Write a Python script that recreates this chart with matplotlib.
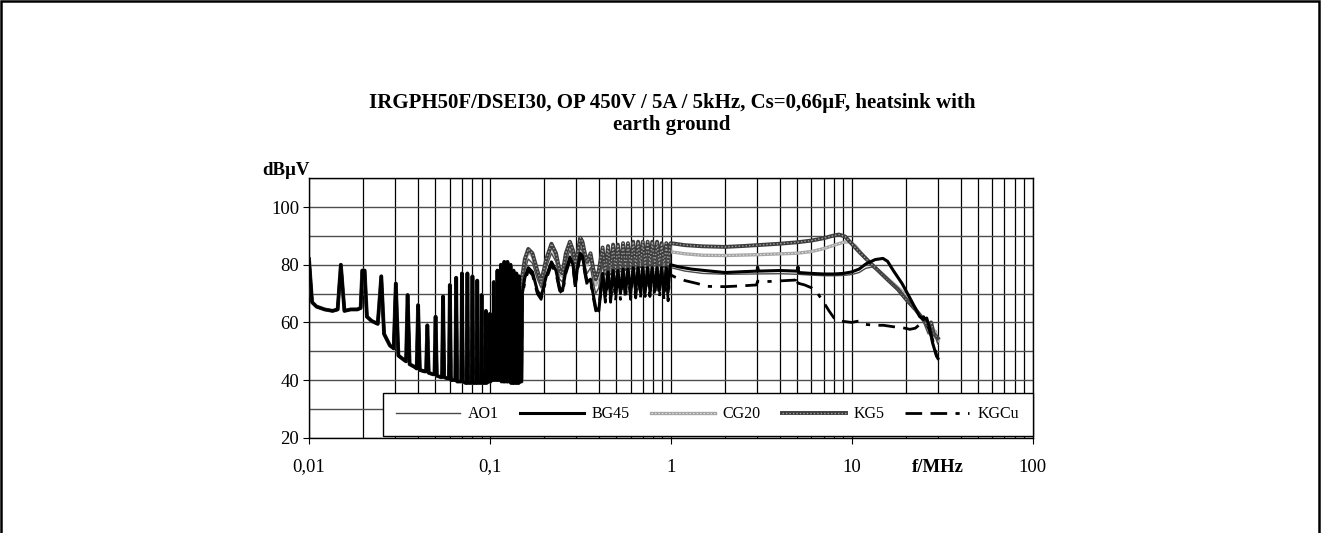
import matplotlib
matplotlib.use("Agg")
import matplotlib.pyplot as plt
from matplotlib.patches import Rectangle
from matplotlib.ticker import FixedLocator, FixedFormatter, LogLocator, NullFormatter, MultipleLocator

plt.rcParams["font.family"] = ["Liberation Serif", "DejaVu Serif"]
plt.rcParams["lines.scale_dashes"] = False

# ---- data (f in MHz, level in dBuV) ----
# below 0.15 MHz all five traces lie on top of each other: 5 kHz harmonics
LF_F = [0.0100, 0.0104, 0.0110, 0.0122, 0.0135, 0.0144,
        0.0150, 0.0157, 0.0170, 0.0185, 0.0193,
        0.0197, 0.0203, 0.0209, 0.0222, 0.0240,
        0.0251, 0.0260, 0.0280, 0.0294,
        0.0302, 0.0312, 0.0335, 0.0344,
        0.0351, 0.0360, 0.0385, 0.0394,
        0.0401, 0.0410, 0.0435, 0.0444,
        0.0451, 0.0459, 0.0485, 0.0494,
        0.0501, 0.0509, 0.0535, 0.0544,
        0.0551, 0.0559, 0.0585, 0.0594,
        0.0601, 0.0609, 0.0635, 0.0644,
        0.0651, 0.0659, 0.0685, 0.0694,
        0.0701, 0.0709, 0.0735, 0.0744,
        0.0751, 0.0759, 0.0785, 0.0794,
        0.0801, 0.0809, 0.0835, 0.0844,
        0.0851, 0.0859, 0.0885, 0.0894,
        0.0901, 0.0909, 0.0935, 0.0944,
        0.0951, 0.0959, 0.0985, 0.0994,
        0.1001, 0.1009, 0.1025, 0.1035, 0.1044,
        0.1051, 0.1059, 0.1075, 0.1085, 0.1094,
        0.1101, 0.1109, 0.1125, 0.1135, 0.1144,
        0.1151, 0.1159, 0.1175, 0.1185, 0.1194,
        0.1201, 0.1209, 0.1225, 0.1235, 0.1244,
        0.1251, 0.1259, 0.1275, 0.1285, 0.1294,
        0.1301, 0.1309, 0.1325, 0.1335, 0.1344,
        0.1351, 0.1359, 0.1375, 0.1385, 0.1394,
        0.1401, 0.1409, 0.1425, 0.1435, 0.1444,
        0.1451, 0.1459, 0.1475, 0.1485, 0.1495]
LF_DB = [82.0, 67.0, 65.5, 64.5, 64.0, 64.5,
         80.0, 64.0, 64.5, 64.5, 65.0,
         78.0, 78.0, 62.0, 60.5, 59.5,
         76.0, 56.0, 52.0, 51.0,
         73.5, 48.5, 47.0, 46.5,
         69.5, 45.5, 44.5, 44.0,
         66.0, 43.5, 43.0, 43.0,
         59.0, 42.5, 42.0, 42.0,
         62.0, 41.5, 41.0, 41.0,
         69.0, 41.0, 40.5, 40.5,
         73.0, 40.0, 40.0, 40.0,
         75.5, 39.5, 39.5, 39.5,
         77.0, 39.5, 39.0, 39.0,
         77.0, 39.0, 39.0, 39.0,
         76.0, 39.0, 39.0, 39.0,
         74.5, 39.0, 39.0, 39.0,
         69.5, 39.0, 39.0, 39.0,
         64.0, 39.0, 39.5, 39.5,
         63.0, 39.5, 55.0, 40.0, 40.0,
         74.0, 40.0, 62.0, 40.0, 40.0,
         78.0, 40.0, 65.0, 40.0, 40.0,
         80.0, 39.5, 66.0, 39.5, 39.5,
         81.0, 39.5, 67.0, 39.5, 39.5,
         81.0, 39.5, 66.0, 39.5, 39.5,
         80.0, 39.0, 65.0, 39.0, 39.0,
         78.0, 39.0, 63.0, 39.0, 39.0,
         77.0, 39.0, 62.0, 39.0, 39.0,
         76.0, 39.5, 60.0, 39.5, 39.5]

# 0.15 .. 0.4 MHz arches
ARCH_F = [0.151, 0.156, 0.163, 0.172, 0.183, 0.192, 0.205, 0.219, 0.232, 0.243,
          0.252, 0.263, 0.277, 0.288, 0.297, 0.305, 0.316, 0.325, 0.335, 0.345,
          0.360, 0.372, 0.385, 0.400]
AO1_ARCH = [73, 78, 82, 80.5, 75, 72, 79, 84, 81, 75, 74, 81, 85, 82, 77, 81, 86, 84.5, 80, 77, 79, 74, 70, 72]
BG45_ARCH = [70, 75.5, 79, 77.5, 71, 69, 76, 81, 78, 72, 71, 78, 82.7, 80, 73, 79, 84, 83, 78, 74, 75, 70, 65, 64]
CG20_ARCH = [75, 81, 84.5, 83, 77, 73, 81, 86.5, 83, 77, 76, 83, 87.5, 84.5, 79, 83.5, 88.5, 87, 83, 80, 83, 78, 73, 76]
KG5_ARCH = [76, 82, 85.5, 84, 78, 74, 82, 87.3, 84, 78, 77, 84, 88, 85, 80, 84, 89.4, 88, 84, 81, 84, 79, 75, 78]
KGCU_ARCH = [69, 74, 78, 76.5, 70, 68, 75, 80, 77, 71, 70, 77, 81.5, 79, 72, 78, 83, 82, 77, 73, 74, 69, 64, 65]

# 0.42 .. 1 MHz comb (peak / trough alternating)
COMB_F = [0.42, 0.435, 0.45, 0.465, 0.48, 0.495, 0.51, 0.527, 0.545, 0.562,
          0.58, 0.60, 0.62, 0.64, 0.66, 0.68, 0.70, 0.722, 0.745, 0.767,
          0.79, 0.815, 0.84, 0.865, 0.89, 0.917, 0.945, 0.967, 0.99]
AO1_COMB = [81, 71, 81.5, 71, 82, 71.5, 82, 72, 82.5, 72, 83, 72, 83, 72.5, 83,
            72.5, 83, 72.5, 83, 72.5, 83, 72.5, 83, 72, 82.5, 72, 82.5, 71.5, 82]
BG45_COMB = [77, 69, 77.5, 69, 78, 70, 78, 70, 78.5, 70, 78.5, 70, 79, 70.5, 79,
             70.5, 79, 70.5, 79, 71, 79, 71, 79, 71, 79, 70.5, 79, 70.5, 79]
CG20_COMB = [85, 75, 85.5, 75.5, 86, 76, 86.5, 76, 87, 77, 87, 77, 87.5, 77.5, 87.5,
             78, 87.5, 78, 87.5, 78, 87.5, 78, 87.5, 78, 87, 77.5, 87, 77, 86.5]
KG5_COMB = [86, 77, 86.5, 77, 87, 78, 87, 78, 87.5, 78.5, 87.5, 79, 88, 79, 88,
            79.5, 88, 79.5, 88, 80, 88, 80, 88, 80, 87.5, 79.5, 87.5, 79, 87]
KGCU_COMB = [76, 67, 76.5, 67, 77, 67.5, 77, 68, 77.5, 68, 77.5, 68, 78, 68.5, 78,
             68.5, 78, 69, 78, 69, 78, 69, 78, 68.5, 78, 68, 78, 67.5, 78]

# 1 .. 30 MHz
AO1_HF_F = [1.0, 1.2, 1.5, 2.0, 3.0, 4.0, 5.0, 6.0, 7.0, 8.0, 9.0, 10.0, 11.0, 12.0,
            13.0, 15.0, 17.0, 20.0, 23.0, 25.0, 26.5, 28.0, 29.0, 30.0]
AO1_HF_DB = [79.0, 77.8, 77.0, 76.7, 76.8, 76.9, 76.7, 76.4, 76.2, 76.2, 76.3, 76.6, 77.3, 78.8,
             79.2, 76.5, 73.0, 68.5, 63.5, 60.0, 56.0, 58.0, 55.0, 52.5]
BG45_HF_F = [1.0, 1.1, 1.3, 1.6, 2.0, 2.5, 3.0, 3.02, 3.06, 4.0, 5.0, 5.05, 5.1, 6.0, 7.0, 8.0,
             9.0, 10.0, 11.0, 12.0, 13.5, 14.9, 15.8, 17.0, 19.0, 21.0, 23.8, 25.0, 26.0,
             27.0, 28.0, 29.4, 30.0]
BG45_HF_DB = [80.0, 79.3, 78.5, 77.9, 77.3, 77.6, 77.8, 79.2, 77.8, 78.0, 77.8, 79.3, 77.3, 77.0,
              76.8, 76.8, 77.0, 77.5, 78.5, 80.3, 81.8, 82.2, 81.2, 78.0, 73.5, 68.5, 62.0,
              61.0, 61.5, 58.0, 53.0, 48.5, 47.5]
CG20_HF_F = [1.0, 1.2, 1.5, 2.0, 3.0, 4.0, 5.0, 6.0, 7.0, 8.0, 9.0, 9.8, 10.5, 11.5, 13.0,
             15.0, 17.0, 20.0, 23.0, 25.5, 27.0, 28.0, 29.0, 30.0]
CG20_HF_DB = [84.5, 83.8, 83.3, 83.2, 83.5, 83.8, 84.0, 84.6, 85.6, 86.8, 87.8, 88.0, 86.5, 83.5,
              80.0, 76.5, 73.5, 69.5, 64.0, 60.0, 57.0, 54.0, 57.0, 53.5]
KG5_HF_F = [1.0, 1.2, 1.5, 2.0, 2.5, 3.0, 4.0, 5.0, 6.0, 7.0, 7.8, 8.5, 9.2, 10.0, 11.0, 12.5,
            14.0, 16.0, 18.0, 20.0, 22.5, 25.0, 26.5, 27.5, 28.5, 30.0]
KG5_HF_DB = [87.5, 86.8, 86.4, 86.2, 86.5, 86.8, 87.3, 87.8, 88.4, 89.2, 90.0, 90.5, 89.8, 87.3,
             84.5, 81.0, 78.0, 74.5, 71.5, 68.0, 64.5, 61.0, 58.5, 60.0, 56.0, 54.5]
KGCU_HF_F = [1.0, 1.05, 1.2, 1.4, 1.6, 2.0, 2.5, 2.98, 3.02, 3.5, 4.0, 4.9, 4.95, 5.05, 5.5,
             6.0, 6.5, 7.0, 7.5, 8.0, 8.6, 10.0, 11.0, 12.0, 13.5, 15.0, 17.0, 19.0, 21.0,
             22.5, 24.0, 25.0, 26.0, 27.0, 28.0, 29.0, 29.6]
KGCU_HF_DB = [76.5, 75.8, 74.5, 73.5, 72.5, 72.4, 72.7, 73.0, 74.3, 74.2, 74.4, 74.7, 76.0, 73.6,
              73.0, 72.0, 70.0, 67.0, 64.0, 61.5, 60.5, 60.0, 60.5, 59.3, 59.0, 59.0, 58.5,
              58.2, 57.6, 58.0, 59.5, 62.0, 60.0, 57.0, 54.0, 50.5, 48.0]

LABELS = ["AO1", "BG45", "CG20", "KG5", "KGCu"]
X_TICKS = [0.01, 0.1, 1, 10, 100]
X_TICKLABELS = ["0,01", "0,1", "1", "10", "100"]
TITLE_1 = "IRGPH50F/DSEI30, OP 450V / 5A / 5kHz, Cs=0,66\u00b5F, heatsink with"
TITLE_2 = "earth ground"


def trace(arch, comb, hf_f, hf_db):
    return LF_F + ARCH_F + COMB_F + hf_f, LF_DB + arch + comb + hf_db


W, H = 1321, 533
fig = plt.figure(figsize=(W / 100, H / 100), dpi=100)
ax = fig.add_axes([309 / W, 1 - 437.7 / H, 723.5 / W, 259.4 / H])

f, d = trace(CG20_ARCH, CG20_COMB, CG20_HF_F, CG20_HF_DB)
cg_a, = ax.plot(f, d, color="#a6a6a6", lw=2.4, zorder=2)
cg_b, = ax.plot(f, d, color="#e2e2e2", lw=0.8, ls=(0, (1, 1.5)), zorder=2.1)

f, d = trace(KG5_ARCH, KG5_COMB, KG5_HF_F, KG5_HF_DB)
kg_a, = ax.plot(f, d, color="#3c3c3c", lw=2.8, zorder=3)
kg_b, = ax.plot(f, d, color="#a0a0a0", lw=1.0, ls=(0, (1, 1.5)), zorder=3.1)

f, d = trace(AO1_ARCH, AO1_COMB, AO1_HF_F, AO1_HF_DB)
ao, = ax.plot(f, d, color="#4a4a4a", lw=1.0, zorder=4)

f, d = trace(KGCU_ARCH, KGCU_COMB, KGCU_HF_F, KGCU_HF_DB)
kc, = ax.plot(f, d, color="black", lw=2.0, ls=(0, (12, 6, 12, 6, 3, 6)), zorder=4.5)

f, d = trace(BG45_ARCH, BG45_COMB, BG45_HF_F, BG45_HF_DB)
bg, = ax.plot(f, d, color="black", lw=2.2, zorder=5)

ax.set_xscale("log")
ax.set_xlim(0.01, 100)
ax.set_ylim(20, 110)
ax.xaxis.set_major_locator(FixedLocator(X_TICKS))
ax.xaxis.set_major_formatter(FixedFormatter(X_TICKLABELS))
ax.xaxis.set_minor_locator(LogLocator(base=10, subs=range(2, 10)))
ax.xaxis.set_minor_formatter(NullFormatter())
ax.yaxis.set_major_locator(MultipleLocator(20))
ax.yaxis.set_minor_locator(MultipleLocator(10))

ax.grid(which="both", axis="x", color="black", lw=0.9)
ax.grid(which="both", axis="y", color="#4d4d4d", lw=1.0)
for s in ax.spines.values():
    s.set_color("black")
    s.set_linewidth(1.0)

ax.tick_params(axis="x", which="major", direction="out", length=4, pad=11, labelsize=13.5)
ax.tick_params(axis="x", which="minor", direction="in", length=3)
ax.tick_params(axis="y", which="major", direction="out", length=4, pad=3, labelsize=13.5)
ax.tick_params(axis="y", which="minor", length=0)

leg = ax.legend([ao, bg, (cg_a, cg_b), (kg_a, kg_b), kc], LABELS,
                loc="lower left", bbox_to_anchor=(0.102, 0.007, 0.898, 0.181),
                mode="expand", ncol=5, borderaxespad=0, fancybox=False,
                framealpha=1, edgecolor="black", handlelength=4.0,
                handletextpad=0.5, borderpad=0.85, prop={"size": 11.5})
leg.get_frame().set_linewidth(1.0)
leg.set_zorder(10)

fig.text(672 / W, 1 - 103 / H, TITLE_1, ha="center", va="center",
         fontsize=15, fontweight="bold")
fig.text(672 / W, 1 - 125 / H, TITLE_2, ha="center", va="center",
         fontsize=15, fontweight="bold")
fig.text(286 / W, 1 - 171 / H, "dB\u00b5V", ha="center", va="center",
         fontsize=13.5, fontweight="bold")
fig.text(938 / W, 1 - 467 / H, "f/MHz", ha="center", va="center",
         fontsize=13.5, fontweight="bold")

fig.patches.append(Rectangle((0.8 / W, -0.02), 1 - 2.5 / W, 1.02 - 1.2 / H,
                             transform=fig.transFigure, fill=False,
                             ec="black", lw=1.8))

fig.savefig("out.png", dpi=100)
